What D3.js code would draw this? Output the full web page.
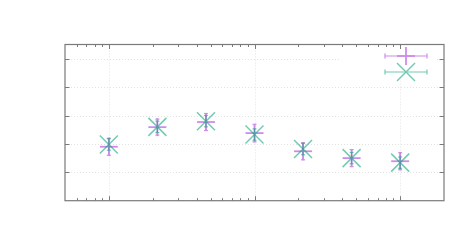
<!DOCTYPE html>
<html><head><meta charset="utf-8">
<script src="https://cdn.jsdelivr.net/npm/d3@7"></script>
<style>html,body{margin:0;padding:0;background:#fff;}svg{display:block;}</style>
</head><body>
<svg id="c" width="472" height="250"></svg>
<script>
const xValues = [1, 2.154, 4.642, 10, 21.54, 46.42, 100];
const purpleY = [1.90, 2.59, 2.77, 2.38, 1.74, 1.50, 1.39];
const purpleErr = [0.30, 0.28, 0.30, 0.31, 0.30, 0.30, 0.30];
const tealY = [1.98, 2.60, 2.80, 2.33, 1.82, 1.50, 1.34];
const tealErr = [0.20, 0.20, 0.20, 0.20, 0.20, 0.20, 0.20];
const xMajorTicks = [1, 10, 100];
const xMinorTicks = [0.6,0.7,0.8,0.9,2,3,4,5,6,7,8,9,20,30,40,50,60,70,80,90];
const yTicks = [1, 2, 3, 4, 5];

const svg = d3.select("#c");
const L = 65, R = 444, T = 44.5, B = 200.7;
const x = d3.scaleLog().domain([0.5, 200]).range([L, R]);
const y = d3.scaleLinear().domain([0, 5.5]).range([B, T]);
const frameCol = "#7a7a7a";
const gridCol = "#e2e2e2";

// grid
const g = svg.append("g");
g.selectAll(".gx").data(xMajorTicks).join("line")
  .attr("x1", d => Math.round(x(d)) + 0.5).attr("x2", d => Math.round(x(d)) + 0.5)
  .attr("y1", T).attr("y2", B)
  .attr("stroke", gridCol).attr("stroke-width", 1).attr("stroke-dasharray", "1,2");
g.selectAll(".gy").data(yTicks).join("line")
  .attr("x1", L).attr("x2", R)
  .attr("y1", d => Math.round(y(d)) + 0.5).attr("y2", d => Math.round(y(d)) + 0.5)
  .attr("stroke", gridCol).attr("stroke-width", 1).attr("stroke-dasharray", "1,2");

// key area blanks grid
svg.append("rect").attr("x", 339).attr("y", T + 1).attr("width", 97).attr("height", 35).attr("fill", "#fff");

// axes (ticks inward on all sides)
const ax = svg.append("g");
function xt(vals, len) {
  vals.forEach(v => {
    const px = Math.round(x(v)) + 0.5;
    ax.append("line").attr("x1", px).attr("x2", px).attr("y1", B).attr("y2", B - len).attr("stroke", frameCol);
    ax.append("line").attr("x1", px).attr("x2", px).attr("y1", T).attr("y2", T + len).attr("stroke", frameCol);
  });
}
xt(xMajorTicks, 4.5);
xt(xMinorTicks, 2.5);
yTicks.forEach(v => {
  const py = Math.round(y(v)) + 0.5;
  ax.append("line").attr("x1", L).attr("x2", L + 4.5).attr("y1", py).attr("y2", py).attr("stroke", frameCol);
  ax.append("line").attr("x1", R).attr("x2", R - 4.5).attr("y1", py).attr("y2", py).attr("stroke", frameCol);
});
ax.append("rect").attr("x", L).attr("y", T).attr("width", R - L).attr("height", B - T)
  .attr("fill", "none").attr("stroke", frameCol).attr("stroke-width", 1.2);

const purple = "#9400d3", teal = "#009e73";
const M = 9;

function series(vals, errs, color, marker, op) {
  const s = svg.append("g").attr("opacity", op);
  xValues.forEach((xv, i) => {
    const cx = x(xv), cy = y(vals[i]);
    const y1 = y(vals[i] + errs[i]), y2 = y(vals[i] - errs[i]);
    s.append("line").attr("x1", cx).attr("x2", cx).attr("y1", y1).attr("y2", y2).attr("stroke", color).attr("stroke-width", 1.2);
    s.append("line").attr("x1", cx - 2).attr("x2", cx + 2).attr("y1", y1).attr("y2", y1).attr("stroke", color).attr("stroke-width", 1.2);
    s.append("line").attr("x1", cx - 2).attr("x2", cx + 2).attr("y1", y2).attr("y2", y2).attr("stroke", color).attr("stroke-width", 1.2);
    drawMarker(s, cx, cy, color, marker);
  });
}
function drawMarker(s, cx, cy, color, marker) {
  if (marker === "+") {
    s.append("line").attr("x1", cx - M).attr("x2", cx + M).attr("y1", cy).attr("y2", cy).attr("stroke", color).attr("stroke-width", 1.8);
    s.append("line").attr("x1", cx).attr("x2", cx).attr("y1", cy - M).attr("y2", cy + M).attr("stroke", color).attr("stroke-width", 1.8);
  } else {
    s.append("line").attr("x1", cx - M).attr("x2", cx + M).attr("y1", cy - M).attr("y2", cy + M).attr("stroke", color).attr("stroke-width", 1.5);
    s.append("line").attr("x1", cx - M).attr("x2", cx + M).attr("y1", cy + M).attr("y2", cy - M).attr("stroke", color).attr("stroke-width", 1.5);
  }
}
series(purpleY, purpleErr, purple, "+", 0.45);
series(tealY, tealErr, teal, "x", 0.55);

// key
const keyItems = [{color: purple, marker: "+", y: 56, op: 0.45}, {color: teal, marker: "x", y: 72, op: 0.55}];
keyItems.forEach(k => {
  const s = svg.append("g").attr("opacity", k.op);
  s.append("line").attr("x1", 385).attr("x2", 427).attr("y1", k.y).attr("y2", k.y).attr("stroke", k.color).attr("stroke-width", 1.2);
  [385, 427].forEach(px => s.append("line").attr("x1", px).attr("x2", px).attr("y1", k.y - 2.5).attr("y2", k.y + 2.5).attr("stroke", k.color).attr("stroke-width", 1.2));
  drawMarker(s, 406, k.y, k.color, k.marker);
});
</script>
</body></html>
